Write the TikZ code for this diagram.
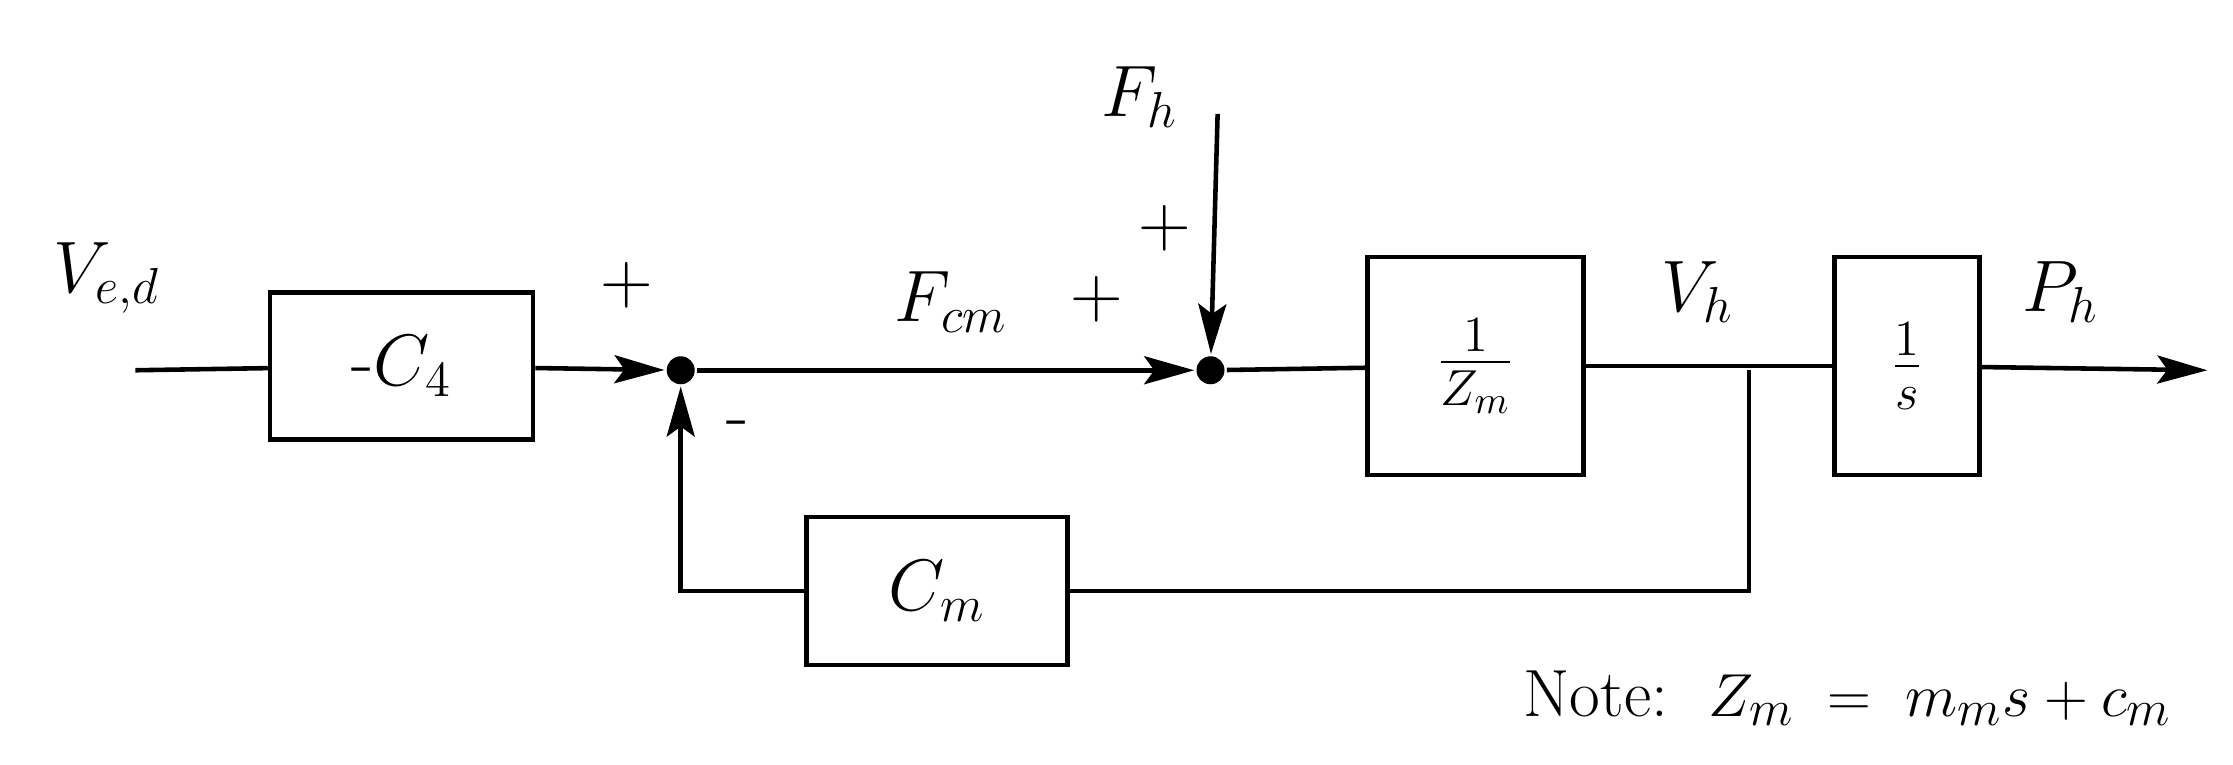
\documentclass[tikz,border=0pt]{standalone}
\usetikzlibrary{arrows.meta}
\begin{document}
\begin{tikzpicture}[x=0.01424cm,y=-0.01424cm,line width=1.3pt,
  blk/.style={draw,line width=1.3pt,inner sep=0pt},
  dot/.style={circle,fill,inner sep=0pt,minimum size=0.28cm},
  arr/.style={-{Stealth[length=0.5cm,width=0.28cm,inset=0.1cm]}},
  lbl/.style={font=\fontsize{21}{25}\selectfont}]
\useasboundingbox (0,0) rectangle (1568,537);
\coordinate (in) at (95,260);
\node[blk,minimum width=2.63cm,minimum height=1.47cm,lbl] (c4) at (282,257) {-$C_4$};
\node[dot] (s1) at (478,260) {};
\node[dot] (s2) at (850,260) {};
\node[blk,minimum width=2.16cm,minimum height=2.18cm,lbl] (zm) at (1036,257) {$\frac{1}{Z_m}$};
\node[blk,minimum width=1.45cm,minimum height=2.18cm,lbl] (is) at (1339,257) {$\frac{1}{s}$};
\node[blk,minimum width=2.61cm,minimum height=1.48cm,lbl] (cm) at (658,415) {$C_m$};
\coordinate (fh) at (855,80);
\coordinate (br) at (1228,260);
\coordinate (bb) at (1228,415);
\coordinate (lb) at (478,415);
\coordinate (out) at (1550,260);
\draw (in) -- (c4);
\draw[arr] (c4) -- (s1);
\draw[arr] (s1) -- (s2);
\draw[arr] (fh) -- (s2);
\draw (s2) -- (zm);
\draw (zm) -- (is);
\draw[arr] (is) -- (out);
\draw (br) -- (bb) -- (cm);
\draw[arr] (cm) -- (lb) -- (s1);
\node[lbl] (ved) at (75,195) {$V_{e,d}$};
\node[lbl] (p1) at (440,200) {$+$};
\node[lbl] (m1) at (518,302) {-};
\node[lbl] (fcm) at (668,212) {$F_{cm}$};
\node[lbl] (p2) at (770,210) {$+$};
\node[lbl] (p3) at (818,160) {$+$};
\node[lbl] (fhl) at (800,68) {$F_h$};
\node[lbl] (vh) at (1192,205) {$V_h$};
\node[lbl] (ph) at (1447,205) {$P_h$};
\node[font=\fontsize{19}{23}\selectfont,anchor=east] (note) at (1535,490) {Note:\ \ $Z_m\;=\;m_m s + c_m$};
\end{tikzpicture}
\end{document}
